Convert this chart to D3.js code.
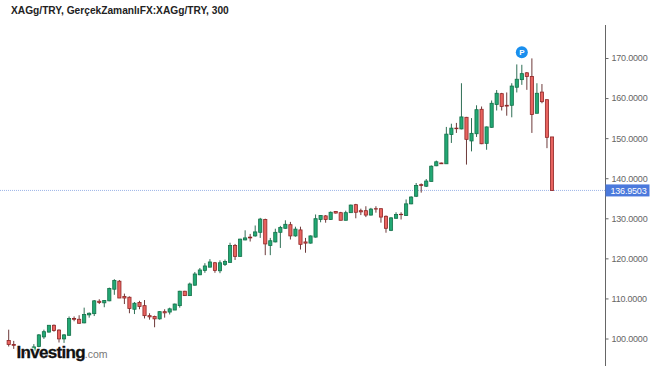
<!DOCTYPE html>
<html>
<head>
<meta charset="utf-8">
<script src="https://cdn.jsdelivr.net/npm/d3@7"></script>
<style>
html, body { margin: 0; padding: 0; background: #fff; }
svg { display: block; font-family: "Liberation Sans", Arial, sans-serif; }
</style>
</head>
<body>
<svg></svg>
<script>
const open = [99.5,98.5,97.6,96.8,96.4,96.8,98.0,100.4,101.6,103.3,102.1,99.9,100.8,105.0,104.8,103.9,105.9,106.2,109.3,108.9,109.4,112.3,114.3,110.5,110.3,107.3,109.0,108.2,105.7,105.5,104.9,106.7,106.6,107.1,108.2,111.8,110.7,113.3,115.9,117.0,117.8,118.9,
    116.9,118.5,119.0,123.2,120.5,124.6,125.3,125.6,126.5,129.7,123.2,124.1,126.5,127.5,128.4,125.6,127.1,124.1,123.8,125.3,129.7,130.6,129.7,131.7,131.4,129.5,131.4,133.4,131.9,131.9,130.8,132.4,132.4,130.5,127.0,130.0,131.0,130.7,133.6,135.5,
    138.4,138.0,139.2,143.1,143.8,143.6,150.9,152.5,152.3,155.2,149.3,151.1,157.2,148.7,152.7,158.4,161.1,158.2,158.2,162.7,164.6,166.3,165.4,156.2,161.5,159.6,150.3];
const high = [102.2,99.4,98.0,97.2,97.4,98.6,101.1,102.2,103.3,103.5,102.3,101.1,105.5,105.5,105.8,107.7,106.5,109.6,109.8,109.6,112.7,114.8,114.6,111.2,110.5,109.1,109.4,109.6,106.3,105.7,106.8,107.3,107.7,108.7,111.9,111.9,113.95,116.6,117.6,118.8,119.8,119.1,
    119.5,119.7,123.9,123.6,124.9,127.0,126.1,128.2,130.1,129.9,125.1,127.4,128.1,129.5,129.1,127.9,127.9,125.1,125.7,130.95,130.8,130.8,131.7,131.8,131.6,131.9,133.4,133.6,132.4,133.0,132.6,133.0,132.4,130.7,130.3,131.5,131.5,134.7,135.5,138.8,
    138.7,139.8,143.2,144.4,143.9,152.8,153.6,153.8,163.7,155.3,155.0,158.2,157.9,152.9,159.4,162.0,161.3,161.4,163.7,168.4,168.3,166.5,169.9,163.7,163.5,159.6,150.3];
const low = [98.0,97.4,96.6,95.8,96.0,96.4,97.8,99.9,101.5,101.7,99.0,98.9,100.7,104.3,103.7,103.8,105.2,105.6,108.6,107.8,109.3,110.9,110.1,108.6,106.3,106.1,107.3,105.0,104.7,102.8,104.7,105.2,106.0,107.1,107.7,110.6,110.6,113.2,115.8,116.4,117.8,116.4,
    116.3,118.1,118.9,119.6,120.4,124.5,124.2,125.4,125.1,120.8,120.8,124.0,122.6,127.4,124.7,125.4,122.2,121.4,123.7,125.2,129.0,128.9,129.6,131.2,129.5,129.5,131.4,130.0,130.8,130.3,130.7,131.4,128.9,126.4,126.8,129.9,129.7,130.6,133.5,135.3,
    136.4,137.8,139.2,143.0,143.6,143.6,148.8,151.3,152.2,143.4,146.7,150.3,148.5,147.1,152.6,156.9,156.9,155.6,155.2,161.4,163.3,162.05,151.3,156.2,158.7,147.5,136.95];
const close = [98.5,98.3,97.0,96.2,96.9,97.9,100.9,101.7,103.3,102.0,99.9,100.9,105.0,104.8,103.8,106.0,106.3,109.4,109.0,109.5,112.5,114.5,110.1,110.1,107.5,108.8,108.0,105.7,105.4,104.9,106.7,106.4,107.4,108.6,111.8,110.7,113.6,116.1,117.1,118.1,119.1,117.0,
    118.9,119.2,123.2,120.5,124.8,125.1,125.1,126.6,129.8,123.6,124.4,126.5,127.7,128.5,125.6,127.3,123.5,123.8,125.6,129.9,130.7,129.7,131.5,131.3,129.5,131.4,133.3,131.5,131.6,130.8,132.3,132.3,130.3,127.5,130.1,130.95,130.9,133.6,135.3,138.2,
    138.2,139.3,143.0,144.1,143.6,151.0,152.5,152.35,155.3,149.7,151.2,157.1,148.6,152.8,158.7,161.2,157.9,158.0,163.0,164.7,166.1,165.4,155.9,161.2,159.1,150.2,136.95];
const candleIndex = open.map((d, i) => i);

const priceTicks = [100, 110, 120, 130, 140, 150, 160, 170];
const lastPrice = 136.9503;
const titleText = "XAGg/TRY, GerçekZamanlıFX:XAGg/TRY, 300";

const svgWidth = 654;
const svgHeight = 366;
const axisX = 605.5;

const svg = d3.select("svg")
    .attr("width", svgWidth)
    .attr("height", svgHeight);

const x = d3.scalePoint()
    .domain(candleIndex)
    .range([8.7, 552]);

const y = d3.scaleLinear()
    .domain([100, 170])
    .range([338.5, 58]);

const isUp = i => close[i] >= open[i];

// last price line goes under the candles
svg.append("line")
    .attr("x1", 0)
    .attr("x2", axisX)
    .attr("y1", y(lastPrice))
    .attr("y2", y(lastPrice))
    .attr("stroke", "#9db5e8")
    .attr("stroke-dasharray", "1,1");

const candle = svg.append("g").selectAll("g")
    .data(candleIndex)
    .enter().append("g");

candle.append("line")
    .attr("x1", i => x(i))
    .attr("x2", i => x(i))
    .attr("y1", i => y(high[i]))
    .attr("y2", i => y(low[i]))
    .attr("stroke", i => isUp(i) ? "#2f6f55" : "#6e3a3a");

candle.append("rect")
    .attr("x", i => x(i) - 1.6)
    .attr("width", 3.2)
    .attr("y", i => y(Math.max(open[i], close[i])))
    .attr("height", i => Math.abs(y(open[i]) - y(close[i])))
    .attr("fill", i => isUp(i) ? "#22a874" : "#e8635f")
    .attr("stroke", i => isUp(i) ? "#127048" : "#8f2626")
    .attr("stroke-width", 0.8);

// price axis
const axis = svg.append("g")
    .attr("transform", "translate(" + axisX + ",0)")
    .call(d3.axisRight(y).tickValues(priceTicks).tickFormat(d3.format(".4f")).tickSize(3).tickPadding(3));

axis.select(".domain").remove();
axis.selectAll("line").attr("stroke", "#666");
axis.selectAll("text")
    .attr("fill", "#666")
    .attr("font-size", 9)
    .attr("font-family", "'Liberation Sans', Arial, sans-serif")
    .attr("letter-spacing", -0.2);

svg.append("line")
    .attr("x1", axisX)
    .attr("x2", axisX)
    .attr("y1", 25)
    .attr("y2", svgHeight)
    .attr("stroke", "#666");

// last price tag
svg.append("rect")
    .attr("x", axisX)
    .attr("y", y(lastPrice) - 6)
    .attr("width", 44)
    .attr("height", 12)
    .attr("fill", "#4b79dc");

svg.append("text")
    .attr("x", axisX + 5)
    .attr("y", y(lastPrice))
    .attr("dy", "0.35em")
    .attr("fill", "#fff")
    .attr("font-size", 9)
    .attr("letter-spacing", -0.2)
    .text(d3.format(".4f")(lastPrice));

// title
svg.append("text")
    .attr("x", 11)
    .attr("y", 14)
    .attr("fill", "#222")
    .attr("font-size", 10.2)
    .attr("font-weight", "bold")
    .text(titleText);

// position marker above the top
const markerIndex = 102;
svg.append("circle")
    .attr("cx", x(markerIndex))
    .attr("cy", 52.3)
    .attr("r", 6)
    .attr("fill", "#1a8fee");

svg.append("text")
    .attr("x", x(markerIndex))
    .attr("y", 52.3)
    .attr("dy", "0.35em")
    .attr("text-anchor", "middle")
    .attr("fill", "#fff")
    .attr("font-size", 8)
    .attr("font-weight", "bold")
    .text("P");

// watermark, white pass first and then the letters on top
[{stroke: "#fff", width: 2.5}, {stroke: null, width: 0.3}].forEach(pass => {
    const logo = svg.append("text")
        .attr("x", 16.5)
        .attr("y", 357.5)
        .attr("stroke-linejoin", "round");

    logo.append("tspan")
        .attr("fill", "#111")
        .attr("stroke", pass.stroke || "#111")
        .attr("stroke-width", pass.width)
        .attr("font-size", 17)
        .attr("font-weight", "bold")
        .attr("letter-spacing", -0.7)
        .text("Investing");

    logo.append("tspan")
        .attr("fill", "#777")
        .attr("stroke", pass.stroke || "none")
        .attr("stroke-width", pass.width)
        .attr("font-size", 10.5)
        .text(".com");
});
</script>
</body>
</html>
